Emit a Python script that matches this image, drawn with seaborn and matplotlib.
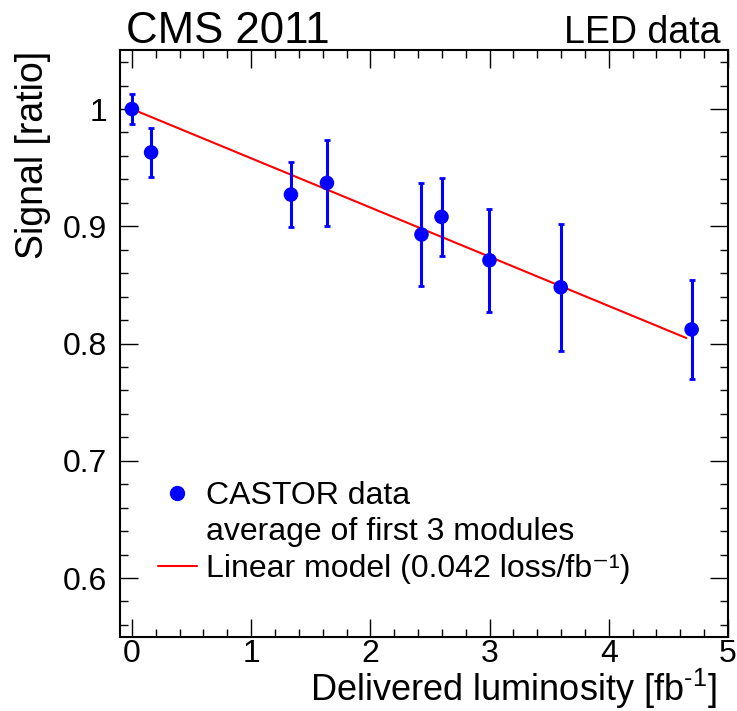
import numpy as np
import pandas as pd
import seaborn as sns
import matplotlib
matplotlib.use("Agg")
import matplotlib.pyplot as plt
from matplotlib.lines import Line2D
from matplotlib.ticker import MultipleLocator, FuncFormatter

# CASTOR LED signal vs delivered luminosity
lumi = [0.0, 0.161, 1.334, 1.636, 2.429, 2.597, 2.999, 3.597, 4.695]
signal = [1.0, 0.963, 0.927, 0.937, 0.893, 0.908, 0.871, 0.848, 0.812]
signal_err = [0.013, 0.021, 0.028, 0.037, 0.044, 0.033, 0.044, 0.054, 0.042]

# linear model
loss_per_fb = 0.042
fit_range = [0.0, 4.65]

df = pd.DataFrame({"lumi": lumi, "signal": signal, "err": signal_err})
fit_x = np.array(fit_range)
fit = pd.DataFrame({"lumi": fit_x, "signal": 1.0 - loss_per_fb * fit_x})

sns.set_theme(style="ticks")
plt.rcParams["font.family"] = ["Liberation Sans", "DejaVu Sans"]
plt.rcParams["mathtext.fontset"] = "custom"
plt.rcParams["mathtext.rm"] = "Liberation Sans"
plt.rcParams["text.color"] = "black"
plt.rcParams["axes.labelcolor"] = "black"

fig = plt.figure(figsize=(7.37, 7.11), dpi=100)
ax = fig.add_axes([0.1628, 0.1046, 0.825, 0.8245])

sns.lineplot(data=fit, x="lumi", y="signal", color="red", linewidth=1.5, ax=ax)
ax.errorbar(df["lumi"], df["signal"], yerr=df["err"], fmt="none", ecolor="blue",
            elinewidth=2.2, capsize=2, capthick=2, zorder=3)
sns.scatterplot(data=df, x="lumi", y="signal", color="blue", s=110, edgecolor="none",
                ax=ax, zorder=4)

ax.set_xlim(-0.1, 5)
ax.set_ylim(0.55, 1.05)
ax.xaxis.set_major_locator(MultipleLocator(1))
ax.xaxis.set_minor_locator(MultipleLocator(0.2))
ax.yaxis.set_major_locator(MultipleLocator(0.1))
ax.yaxis.set_minor_locator(MultipleLocator(0.02))
ax.yaxis.set_major_formatter(FuncFormatter(lambda v, p: f"{v:g}"))
ax.tick_params(which="both", direction="in", top=True, right=True, colors="black",
               labelsize=23, width=1)
ax.tick_params(which="major", length=13)
ax.tick_params(which="minor", length=6)
ax.tick_params(axis="x", pad=2)
ax.tick_params(axis="y", pad=9)
for s in ax.spines.values():
    s.set_linewidth(1.5)
    s.set_color("black")

ax.set_xlabel("Delivered luminosity [fb$^{\\text{-1}}$]", fontsize=26, loc="right")
ax.xaxis.set_label_coords(0.982, -0.051)
ax.xaxis.label.set_va("top")
ax.set_ylabel("Signal [ratio]", fontsize=27, loc="top")
ax.yaxis.set_label_coords(-0.113, 1.0)

fig.text(0.171, 0.94, "CMS 2011", fontsize=31.5, ha="left", va="baseline")
fig.text(0.977, 0.94, "LED data", fontsize=27, ha="right", va="baseline")

handles = [
    Line2D([], [], color="blue", marker="o", linestyle="none", markersize=10),
    Line2D([], [], linestyle="none"),
    Line2D([], [], color="red", linewidth=1.5),
]
labels = ["CASTOR data", "average of first 3 modules",
          "Linear model (0.042 loss/fb\u207b\u00b9)"]
ax.legend(handles, labels, loc="lower left", bbox_to_anchor=(0.063, 0.09),
          frameon=False, fontsize=23, labelspacing=0.2, handlelength=1.2,
          handletextpad=0.3, borderaxespad=0, borderpad=0)

fig.savefig("out.png", dpi=100)
